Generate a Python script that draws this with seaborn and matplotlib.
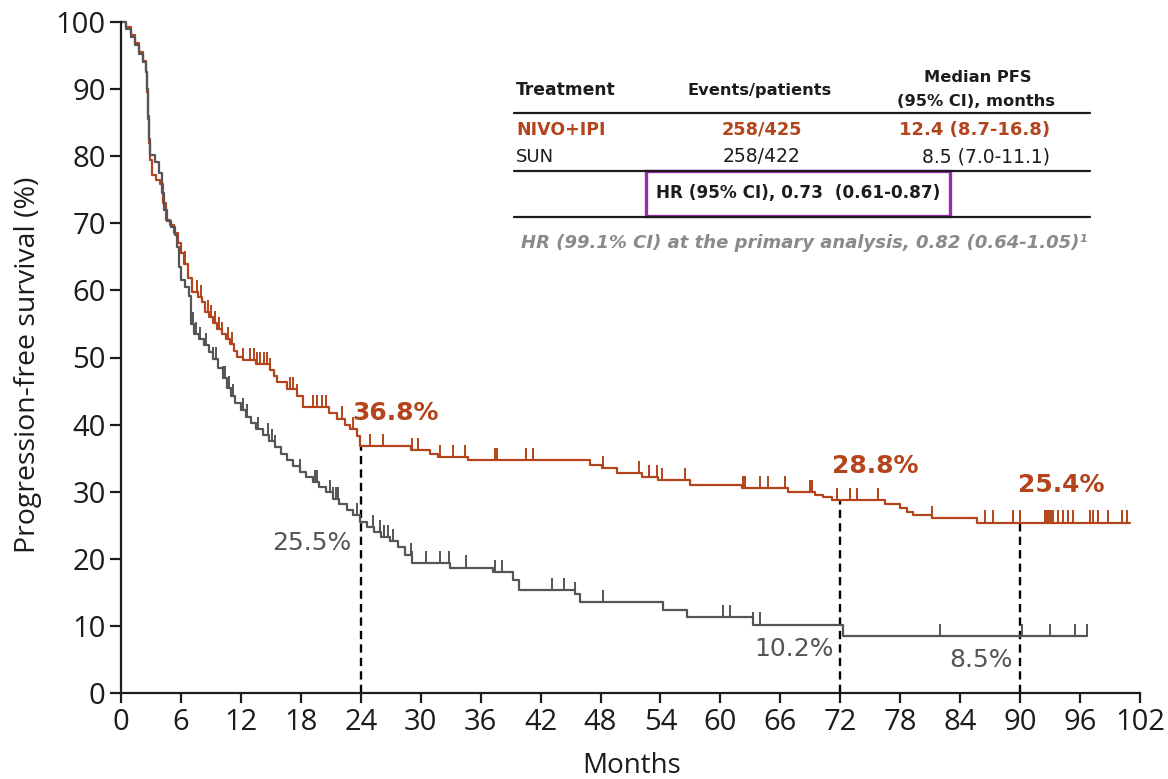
import numpy as np
import pandas as pd
import matplotlib
matplotlib.use("Agg")
import matplotlib.pyplot as plt
import seaborn as sns
from matplotlib.lines import Line2D
from matplotlib.patches import Rectangle

# ---- Kaplan-Meier step data (month of event, PFS % after the step) ----
nivo_months = [0, 0.5, 1.0, 1.4, 1.8, 2.2, 2.5, 2.6, 2.7, 2.8, 2.9, 3.1, 3.5, 3.9,
               4.2, 4.5, 4.9, 5.3, 5.7, 6.0, 6.3, 6.7, 7.1, 7.7, 8.1, 8.4, 8.8,
               9.2, 9.6, 10.1, 10.5, 10.9, 11.3, 11.6, 12.2, 13.5, 14.9, 15.3,
               15.6, 16.6, 17.6, 18.2, 20.8, 21.6, 22.4, 22.9, 23.6, 23.9, 29.0,
               30.9, 31.7, 34.7, 46.9, 48.1, 49.6, 52.2, 53.8, 57.0, 62.2, 66.8,
               69.5, 70.3, 71.2, 76.5, 78.0, 78.7, 79.3, 81.2, 85.7, 101.0]
nivo_pfs = [100, 99.2, 98.0, 96.8, 95.5, 94.2, 92.5, 89.5, 85.5, 82.0, 79.5, 77.2,
            76.5, 75.8, 73.0, 70.5, 69.8, 68.5, 67.0, 65.5, 64.0, 61.8, 59.8, 59.0,
            58.3, 56.8, 56.0, 55.1, 54.3, 53.5, 52.8, 52.0, 51.0, 50.1, 49.6, 49.0,
            48.1, 47.2, 46.3, 45.3, 44.2, 42.6, 41.8, 40.9, 40.0, 39.4, 38.3, 36.8,
            36.2, 35.6, 35.2, 34.7, 34.0, 33.5, 32.8, 32.2, 31.7, 31.0, 30.5, 30.0,
            29.5, 29.2, 28.8, 28.2, 27.6, 27.0, 26.6, 26.1, 25.4, 25.4]

sun_months = [0, 0.5, 1.0, 1.4, 1.8, 2.2, 2.5, 2.6, 2.7, 2.8, 2.9, 3.4, 3.8, 4.1,
              4.3, 4.6, 5.0, 5.4, 5.6, 5.8, 6.0, 6.4, 6.8, 7.0, 7.3, 7.8, 8.3, 8.8,
              9.2, 9.7, 10.2, 10.6, 11.0, 11.4, 12.0, 12.5, 13.0, 13.5, 14.2, 14.8,
              15.4, 16.0, 16.6, 17.2, 17.9, 18.5, 19.2, 19.8, 20.5, 21.2, 21.8,
              22.6, 23.2, 23.9, 24.6, 25.3, 26.0, 26.9, 27.7, 28.4, 29.1, 32.9,
              37.2, 39.2, 39.8, 45.4, 45.9, 54.3, 56.7, 63.3, 72.3, 96.7]
sun_pfs = [100, 99.0, 97.8, 96.5, 95.3, 94.0, 92.5, 90.0, 86.0, 82.5, 80.2, 79.2,
           77.5, 74.5, 72.0, 70.3, 69.5, 68.3, 66.5, 63.5, 61.5, 60.5, 59.2, 55.0,
           53.5, 52.8, 51.8, 50.8, 49.8, 48.5, 47.0, 45.5, 44.2, 43.2, 42.2, 41.2,
           40.3, 39.4, 38.5, 37.5, 36.6, 35.6, 34.7, 33.9, 33.0, 32.2, 31.5, 30.7,
           29.9, 28.9, 28.1, 27.3, 26.5, 25.5, 24.8, 24.0, 23.3, 22.6, 21.8, 20.6,
           19.4, 18.7, 18.0, 16.9, 15.4, 14.8, 13.6, 12.4, 11.3, 10.2, 8.5, 8.5]

# ---- censoring times (months) ----
nivo_censored = [6.4, 7.6, 8.0, 8.7, 9.0, 9.4, 9.8, 10.1, 10.7, 11.1, 12.2, 12.9,
                 13.3, 13.6, 13.9, 14.3, 14.6, 14.9, 16.9, 17.2, 17.6, 19.2, 19.6,
                 20.1, 20.5, 22.1, 23.2, 24.9, 26.2, 29.1, 29.7, 31.9, 33.2, 34.4,
                 37.4, 37.6, 40.5, 41.2, 48.2, 51.9, 52.9, 53.7, 54.2, 56.5, 62.3,
                 62.5, 64.0, 64.8, 66.5, 69.0, 69.2, 71.7, 73.0, 73.7, 75.8, 81.2,
                 86.5, 87.3, 89.3, 90.0, 92.5, 92.7, 92.9, 93.1, 93.3, 93.8, 94.3,
                 94.8, 95.3, 97.0, 97.3, 97.8, 98.8, 100.2, 100.7]
sun_censored = [7.2, 7.5, 7.9, 8.5, 9.2, 9.5, 10.2, 10.4, 10.8, 11.2, 12.2, 12.6,
                13.7, 14.7, 15.1, 15.4, 17.9, 19.4, 19.6, 20.9, 21.2, 21.5, 21.7,
                23.6, 25.2, 25.9, 26.3, 26.7, 27.2, 29.0, 29.1, 30.5, 31.9, 32.8,
                34.5, 37.4, 38.1, 43.1, 44.3, 45.4, 48.2, 60.3, 61.0, 63.3, 64.0,
                82.0, 90.2, 93.0, 95.5, 96.7]

# ---- landmark estimates ----
nivo_landmark_months = [24, 72, 90]
nivo_landmark_pfs = [36.8, 28.8, 25.4]
sun_landmark_pfs = [25.5, 10.2, 8.5]

x_ticks = list(range(0, 103, 6))
y_ticks = list(range(0, 101, 10))

ORANGE = "#B3441C"
GREY = "#555555"
DARK = "#1c1c1c"
PURPLE = "#9A2DAE"

sns.set_theme(style="ticks")
plt.rcParams["font.family"] = ["DejaVu Sans"]

W, H = 1168, 779
fig = plt.figure(figsize=(W / 100, H / 100), dpi=100)
ax = fig.add_axes([121 / W, 86 / H, 1019 / W, 671 / H])

curves = pd.concat([
    pd.DataFrame({"month": nivo_months, "pfs": nivo_pfs, "arm": "NIVO+IPI"}),
    pd.DataFrame({"month": sun_months, "pfs": sun_pfs, "arm": "SUN"}),
], ignore_index=True)

sns.lineplot(data=curves, x="month", y="pfs", hue="arm",
             palette={"NIVO+IPI": ORANGE, "SUN": GREY},
             estimator=None, sort=False, drawstyle="steps-post",
             linewidth=1.6, legend=False, clip_on=False, ax=ax)


def step_value(months, pfs, t):
    idx = np.searchsorted(np.asarray(months), np.asarray(t), side="right") - 1
    return np.asarray(pfs)[idx]


for months, pfs, cens, col in [(nivo_months, nivo_pfs, nivo_censored, ORANGE),
                               (sun_months, sun_pfs, sun_censored, GREY)]:
    yv = step_value(months, pfs, cens)
    ax.vlines(cens, yv, yv + 1.8, color=col, linewidth=1.4)

# landmark dashed guides
ax.vlines(nivo_landmark_months, 0, nivo_landmark_pfs, color="black",
          linewidth=1.7, linestyles=(0, (3.5, 2.2)), zorder=1)

lab_font = dict(fontsize=18)
ax.text(27.5, 41.7, f"{nivo_landmark_pfs[0]}%", color=ORANGE, ha="center",
        va="center", fontweight="bold", **lab_font)
ax.text(75.5, 33.8, f"{nivo_landmark_pfs[1]}%", color=ORANGE, ha="center",
        va="center", fontweight="bold", **lab_font)
ax.text(94.1, 31.0, f"{nivo_landmark_pfs[2]}%", color=ORANGE, ha="center",
        va="center", fontweight="bold", **lab_font)
ax.text(23.1, 22.4, f"{sun_landmark_pfs[0]}%", color=GREY, ha="right",
        va="center", **lab_font)
ax.text(71.3, 6.6, f"{sun_landmark_pfs[1]}%", color=GREY, ha="right",
        va="center", **lab_font)
ax.text(89.3, 4.9, f"{sun_landmark_pfs[2]}%", color=GREY, ha="right",
        va="center", **lab_font)

# axes styling
ax.set_xlim(0, 102)
ax.set_ylim(0, 100)
ax.set_xticks(x_ticks)
ax.set_yticks(y_ticks)
sns.despine(ax=ax)
for side in ("left", "bottom"):
    ax.spines[side].set_linewidth(1.6)
    ax.spines[side].set_color(DARK)
sans = ["Open Sans", "DejaVu Sans"]
ax.tick_params(axis="x", direction="out", length=7, width=1.6, pad=4,
               colors=DARK)
ax.tick_params(axis="y", direction="out", length=8, width=1.6, pad=3,
               colors=DARK)
for lbl in ax.get_xticklabels() + ax.get_yticklabels():
    lbl.set_fontfamily(sans)
    lbl.set_fontsize(21)
ax.set_xlabel("Months", fontfamily=sans, fontsize=20, color=DARK, va="top")
ax.set_ylabel("Progression-free survival (%)", fontfamily=sans, fontsize=20.5,
              color=DARK)
ax.xaxis.set_label_coords(0.5015, -0.088)
ax.yaxis.set_label_coords(-0.0775, 0.489)


# ---- summary table ----
def ftext(px, py, s, **kw):
    kw.setdefault("va", "center")
    kw.setdefault("fontsize", 11.7)
    fig.text(px / W, 1 - py / H, s, **kw)


def hline(py, x0=514, x1=1090):
    fig.add_artist(Line2D([x0 / W, x1 / W], [1 - py / H] * 2, color=DARK,
                          linewidth=1.6))


ftext(516, 90, "Treatment", ha="left", fontweight="bold", color=DARK, fontsize=12.3)
ftext(760, 90, "Events/patients", ha="center", fontweight="bold", color=DARK)
ftext(978, 77, "Median PFS", ha="center", fontweight="bold", color=DARK)
ftext(976, 102, "(95% CI), months", ha="center", fontweight="bold", color=DARK)
hline(113)
ftext(516, 130, "NIVO+IPI", ha="left", fontweight="bold", color=ORANGE, fontsize=12.5)
ftext(762, 130, "258/425", ha="center", fontweight="bold", color=ORANGE, fontsize=12.8)
ftext(1050, 130, "12.4 (8.7-16.8)", ha="right", fontweight="bold", color=ORANGE,
      fontsize=13)
ftext(516, 157, "SUN", ha="left", color=DARK, fontsize=13)
ftext(762, 157, "258/422", ha="center", color=DARK, fontsize=13.5)
ftext(1050, 157, "8.5 (7.0-11.1)", ha="right", color=DARK, fontsize=13.5)
hline(171)
fig.add_artist(Rectangle((646 / W, 1 - 216 / H), (950 - 646) / W, 45 / H,
                         transform=fig.transFigure, fill=False,
                         edgecolor=PURPLE, linewidth=2.4))
ftext(798, 193, "HR (95% CI), 0.73  (0.61-0.87)", ha="center", color=DARK,
      fontweight="bold", fontsize=12.2)
hline(217)
ftext(804, 243, "HR (99.1% CI) at the primary analysis, 0.82 (0.64-1.05)\u00b9",
      ha="center", color="#8a8a8a", style="italic", fontweight="bold",
      fontsize=13.0)

fig.savefig("out.png", dpi=100)
